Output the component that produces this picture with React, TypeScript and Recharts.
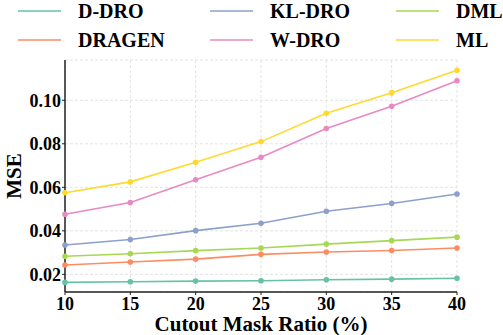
import React from "react";
import { LineChart, Line, XAxis, YAxis, CartesianGrid, Legend } from "recharts";

const ratios = [10, 15, 20, 25, 30, 35, 40];

const dDro = [0.0163, 0.0166, 0.0169, 0.0171, 0.0175, 0.0178, 0.0182];
const dragen = [0.0243, 0.0257, 0.027, 0.0292, 0.0303, 0.031, 0.0321];
const klDro = [0.0335, 0.036, 0.0401, 0.0435, 0.049, 0.0526, 0.0569];
const wDro = [0.0476, 0.053, 0.0635, 0.0738, 0.087, 0.0972, 0.109];
const dml = [0.0283, 0.0295, 0.0309, 0.0321, 0.0339, 0.0355, 0.0371];
const ml = [0.0575, 0.0625, 0.0715, 0.081, 0.094, 0.1035, 0.1138];

const yTicks = [0.02, 0.04, 0.06, 0.08, 0.1];

const series = [
  { key: "dDro", name: "D-DRO", color: "#66c2a5", values: dDro },
  { key: "dragen", name: "DRAGEN", color: "#fc8d62", values: dragen },
  { key: "klDro", name: "KL-DRO", color: "#8da0cb", values: klDro },
  { key: "wDro", name: "W-DRO", color: "#e78ac3", values: wDro },
  { key: "dml", name: "DML", color: "#a6d854", values: dml },
  { key: "ml", name: "ML", color: "#ffd92f", values: ml },
];

const data = ratios.map((r, i) => {
  const row: Record<string, number> = { ratio: r };
  series.forEach((s) => (row[s.key] = s.values[i]));
  return row;
});

const font = "'Liberation Serif', 'Times New Roman', serif";

// legend order: column-major, 3 columns x 2 rows
const legendOrder = [
  ["dDro", "klDro", "dml"],
  ["dragen", "wDro", "ml"],
];
const colX = [18, 210, 396];

function LegendBox() {
  return (
    <svg width={503} height={56} style={{ display: "block" }}>
      {legendOrder.map((row, ri) =>
        row.map((k, ci) => {
          const s = series.find((x) => x.key === k)!;
          const y = 11 + ri * 29;
          return (
            <g key={k}>
              <line x1={colX[ci]} x2={colX[ci] + 43} y1={y} y2={y} stroke={s.color} strokeWidth={1.6} />
              <text
                x={colX[ci] + 60}
                y={y + 7}
                fontFamily={font}
                fontWeight="bold"
                fontSize={20}
                fill="#000"
              >
                {s.name}
              </text>
            </g>
          );
        })
      )}
    </svg>
  );
}

export default function App() {
  return (
    <div style={{ position: "absolute", left: 0, top: 0, width: 503, height: 335 }}>
      <LineChart
        width={503}
        height={335}
        data={data}
        margin={{ top: 60, right: 46, bottom: 0, left: 0 }}
        style={{ fontFamily: font }}
      >
        <CartesianGrid stroke="#e3e3e3" strokeDasharray="3 2" />
        <XAxis
          dataKey="ratio"
          type="number"
          domain={[10, 40]}
          ticks={ratios}
          height={43}
          tickSize={3}
          tickMargin={2}
          axisLine={{ stroke: "#222", strokeWidth: 1.5 }}
          tickLine={{ stroke: "#222" }}
          tick={{ fill: "#000", fontSize: 18, fontWeight: "bold", fontFamily: font }}
          label={{
            value: "Cutout Mask Ratio (%)",
            position: "insideBottom",
            offset: 4,
            fill: "#000",
            fontSize: 21,
            fontWeight: "bold",
            fontFamily: font,
          }}
        />
        <XAxis xAxisId="top" orientation="top" dataKey="ratio" type="number" domain={[10, 40]} height={0} tick={false} tickLine={false} axisLine={{ stroke: "#333", strokeWidth: 1.5 }} />
        <YAxis
          type="number"
          domain={[0.0119, 0.1185]}
          ticks={yTicks}
          width={65}
          tickSize={3}
          tickMargin={1}
          tickFormatter={(v: number) => v.toFixed(2)}
          axisLine={{ stroke: "#222", strokeWidth: 1.5 }}
          tickLine={{ stroke: "#222" }}
          tick={{ fill: "#000", fontSize: 18, fontWeight: "bold", fontFamily: font }}
          label={{
            value: "MSE",
            angle: -90,
            position: "insideLeft",
            offset: 14,
            fill: "#000",
            fontSize: 21,
            fontWeight: "bold",
            fontFamily: font,
            style: { textAnchor: "middle" },
          }}
        />
        <YAxis yAxisId="right" orientation="right" domain={[0.0119, 0.1185]} width={0} tick={false} tickLine={false} axisLine={{ stroke: "#333", strokeWidth: 1.5 }} />
        {series.map((s) => (
          <Line
            key={s.key}
            dataKey={s.key}
            name={s.name}
            stroke={s.color}
            strokeWidth={1.6}
            dot={{ r: 2.8, fill: s.color, stroke: s.color, strokeWidth: 0 }}
            activeDot={false}
            isAnimationActive={false}
          />
        ))}
        <Legend
          verticalAlign="middle"
          layout="horizontal"
          wrapperStyle={{ top: 0, left: 0, width: 503 }}
          content={() => <LegendBox />}
        />
      </LineChart>
    </div>
  );
}
